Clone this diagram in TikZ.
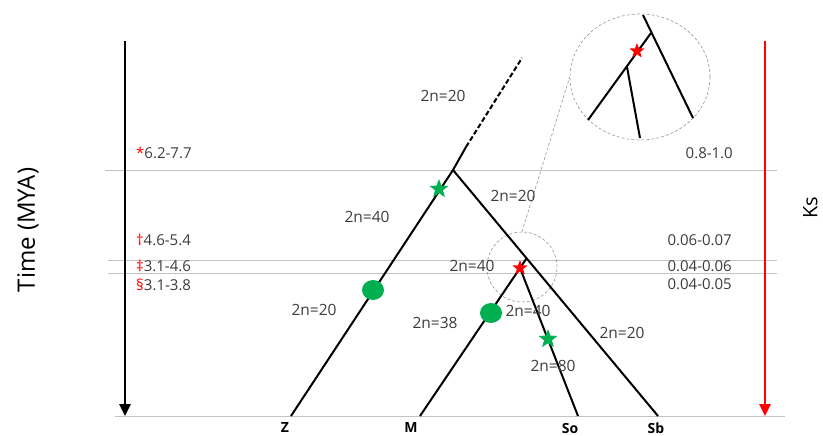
\documentclass[tikz,border=0pt]{standalone}
\usepackage{fontspec}
\setmainfont{Open Sans}
\usetikzlibrary{shapes.geometric,arrows.meta}
\definecolor{gstar}{RGB}{0,176,80}
\definecolor{txt}{RGB}{60,60,60}
\definecolor{gline}{RGB}{195,195,195}
\definecolor{zline}{RGB}{150,150,150}
\tikzset{
  branch/.style={line width=2pt, black},
  lbl/.style={text=txt, font=\fontsize{15.5}{17}\selectfont, inner sep=0pt},
  vlbl/.style={text=txt, font=\fontsize{15}{17}\selectfont, inner sep=0pt},
  leaf/.style={text=black, font=\fontsize{14}{16}\selectfont\bfseries, inner sep=0pt},
  gstarn/.style={star, star points=5, star point ratio=2.4, fill=gstar, minimum size=20pt, inner sep=0pt},
  rstarn/.style={star, star points=5, star point ratio=2.4, fill=red, minimum size=16pt, inner sep=0pt},
  gdot/.style={ellipse, fill=gstar, minimum width=22pt, minimum height=20pt, inner sep=0pt},
  guide/.style={gline, line width=0.9pt},
  zoomc/.style={draw=zline, densely dashed, line width=0.6pt},
  timearrow/.style={line width=2.6pt, -{Triangle[length=12pt,width=11pt]}}
}
\begin{document}
\begin{tikzpicture}[x=1pt,y=-1pt]
\useasboundingbox (0,0) rectangle (823,436);
% guide lines
\coordinate (g1a) at (105,170); \coordinate (g1b) at (777,170);
\coordinate (g2a) at (108,260); \coordinate (g2b) at (777,260);
\coordinate (g3a) at (108,273); \coordinate (g3b) at (777,273);
\coordinate (g4a) at (115,416); \coordinate (g4b) at (785,416);
\draw[guide] (g1a) -- (g1b);
\draw[guide] (g2a) -- (g2b);
\draw[guide] (g3a) -- (g3b);
\draw[guide] (g4a) -- (g4b);
% time arrows
\coordinate (ta) at (125,41); \coordinate (tb) at (125,416);
\coordinate (ka) at (765,41); \coordinate (kb) at (765,416);
\draw[timearrow, black] (ta) -- (tb);
\draw[timearrow, red] (ka) -- (kb);
\node[text=black, font=\fontsize{24}{26}\selectfont, rotate=90, inner sep=0pt] (tlab) at (28,230) {Time (MYA)};
\node[text=black, font=\fontsize{20}{22}\selectfont, rotate=90, inner sep=0pt, anchor=north] (kslab) at (803,208) {Ks};
% zoom circles and connector
\node[zoomc, circle, minimum size=70pt, inner sep=0pt] (zs) at (522,267) {};
\node[zoomc, ellipse, minimum width=140pt, minimum height=126pt, inner sep=0pt] (zb) at (640,77) {};
\draw[zline, densely dashed, line width=0.6pt] (zs.north) -- (zb.west);
% tree coordinates
\coordinate (root) at (453,170);
\coordinate (ds) at (466,147);
\coordinate (top) at (522,58);
\coordinate (z) at (291,416);
\coordinate (sb) at (658,416);
\coordinate (j) at (526.6,258.3);
\coordinate (n2) at (520,268);
\coordinate (m) at (420,416);
\coordinate (so) at (578,416);
\draw[branch] (z) -- (root) -- (ds);
\draw[branch, dash pattern=on 5pt off 2.5pt] (ds) -- (top);
\draw[branch] (root) -- (sb);
\draw[branch] (j) -- (m);
\draw[branch] (n2) -- (so);
% inset tree
\coordinate (ia) at (588,120);
\coordinate (ib) at (651,33);
\coordinate (ic) at (643,15);
\coordinate (id) at (693,118);
\coordinate (ie) at (627,67);
\coordinate (if) at (640,138);
\draw[branch] (ia) -- (ib);
\draw[branch] (ic) -- (id);
\draw[branch] (ie) -- (if);
\node[rstarn] (istar) at (637,51) {};
% markers
\node[gstarn] (s1) at (439,189) {};
\node[gstarn] (s2) at (548,339) {};
\node[rstarn] (s3) at (520,268) {};
\node[gdot] (c1) at (373,290) {};
\node[gdot] (c2) at (491,313) {};
% branch labels
\node[lbl] (l1) at (443,96) {2n=20};
\node[lbl] (l2) at (513,196) {2n=20};
\node[lbl] (l3) at (367,217) {2n=40};
\node[lbl] (l4) at (472,266) {2n=40};
\node[lbl] (l5) at (314,310) {2n=20};
\node[lbl] (l6) at (435,323) {2n=38};
\node[lbl] (l7) at (528,311) {2n=40};
\node[lbl] (l8) at (553,366) {2n=80};
\node[lbl] (l9) at (622,333) {2n=20};
% left time values
\node[vlbl, anchor=west] (t1) at (136,153) {\textcolor{red}{*}6.2-7.7};
\node[vlbl, anchor=west] (t2) at (136,240) {\textcolor{red}{†}4.6-5.4};
\node[vlbl, anchor=west] (t3) at (136,266) {\textcolor{red}{‡}3.1-4.6};
\node[vlbl, anchor=west] (t4) at (136,285) {\textcolor{red}{§}3.1-3.8};
% right Ks values
\node[vlbl, anchor=east] (k1) at (733,153) {0.8-1.0};
\node[vlbl, anchor=east] (k2) at (732,240) {0.06-0.07};
\node[vlbl, anchor=east] (k3) at (732,266) {0.04-0.06};
\node[vlbl, anchor=east] (k4) at (732,284) {0.04-0.05};
% leaves
\node[leaf] (lz) at (285,428) {Z};
\node[leaf] (lm) at (411,428) {M};
\node[leaf] (lso) at (570,428) {So};
\node[leaf] (lsb) at (656,428) {Sb};
\end{tikzpicture}
\end{document}
